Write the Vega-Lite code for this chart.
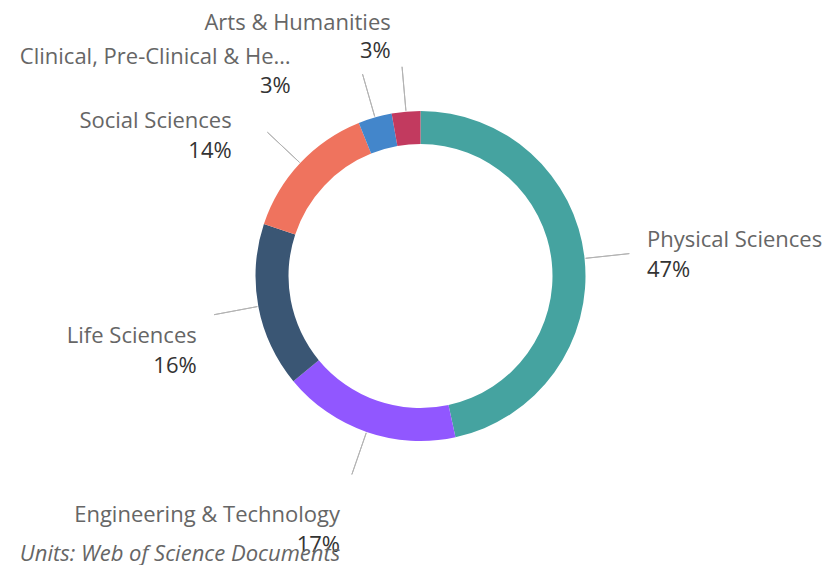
{
  "$schema": "https://vega.github.io/schema/vega-lite/v6.json",
  "width": 795,
  "height": 520,
  "autosize": "none",
  "padding": {"left": 23, "top": 16, "right": 10, "bottom": 29},
  "background": "white",
  "config": {"view": {"stroke": null}},
  "title": {
    "text": "Units: Web of Science Documents",
    "orient": "bottom",
    "anchor": "start",
    "font": "Open Sans",
    "fontSize": 22,
    "fontStyle": "italic",
    "fontWeight": "normal",
    "color": "#666666",
    "baseline": "alphabetic",
    "offset": 5
  },
  "data": {
    "values": [
      {"cat": "Physical Sciences", "share": 0.466, "rank": 1},
      {"cat": "Engineering & Technology", "share": 0.174, "rank": 2},
      {"cat": "Life Sciences", "share": 0.161, "rank": 3},
      {"cat": "Social Sciences", "share": 0.138, "rank": 4},
      {"cat": "Clinical, Pre-Clinical & He…", "share": 0.033, "rank": 5},
      {"cat": "Arts & Humanities", "share": 0.028, "rank": 6}
    ]
  },
  "encoding": {
    "theta": {"field": "share", "type": "quantitative", "stack": true},
    "order": {"field": "rank", "type": "quantitative"},
    "detail": {"field": "cat", "type": "nominal"}
  },
  "layer": [
    {
      "mark": {"type": "arc", "outerRadius": 165, "innerRadius": 132},
      "encoding": {
        "color": {
          "field": "cat",
          "type": "nominal",
          "legend": null,
          "scale": {
            "domain": ["Physical Sciences", "Engineering & Technology", "Life Sciences", "Social Sciences", "Clinical, Pre-Clinical & He…", "Arts & Humanities"],
            "range": ["#45A3A0", "#9157FF", "#3A5674", "#EF735E", "#4386CB", "#C23A5F"]
          }
        }
      }
    },
    {
      "mark": {"type": "arc", "outerRadius": 210, "innerRadius": 166, "padAngle": 3, "fill": null, "fillOpacity": 0, "stroke": "#b3b3b3", "strokeWidth": 1}
    },
    {
      "mark": {
        "type": "text",
        "font": "Open Sans",
        "fontSize": 22,
        "color": "#666666",
        "baseline": "alphabetic",
        "align": {"expr": "datum.cat === 'Physical Sciences' ? 'left' : 'right'"},
        "dx": {"expr": "datum.cat === 'Physical Sciences' ? 27.6 : datum.cat === 'Engineering & Technology' ? -15.1 : datum.cat === 'Life Sciences' ? -27.2 : datum.cat === 'Social Sciences' ? -43.0 : datum.cat === 'Arts & Humanities' ? -12.2 : -74.6"},
        "dy": {"expr": "datum.cat === 'Physical Sciences' ? -7.4 : datum.cat === 'Engineering & Technology' ? 57.3 : datum.cat === 'Life Sciences' ? 30.4 : datum.cat === 'Social Sciences' ? -10.8 : datum.cat === 'Arts & Humanities' ? -46.8 : -19.5"}
      },
      "encoding": {
        "radius": {"value": 200},
        "text": {"field": "cat", "type": "nominal"}
      }
    },
    {
      "mark": {
        "type": "text",
        "font": "Open Sans",
        "fontSize": 22,
        "color": "#333333",
        "baseline": "alphabetic",
        "align": {"expr": "datum.cat === 'Physical Sciences' ? 'left' : 'right'"},
        "dx": {"expr": "datum.cat === 'Physical Sciences' ? 27.6 : datum.cat === 'Engineering & Technology' ? -15.1 : datum.cat === 'Life Sciences' ? -27.2 : datum.cat === 'Social Sciences' ? -43.0 : datum.cat === 'Arts & Humanities' ? -12.2 : -74.6"},
        "dy": {"expr": "datum.cat === 'Physical Sciences' ? 22.6 : datum.cat === 'Engineering & Technology' ? 86.7 : datum.cat === 'Life Sciences' ? 59.8 : datum.cat === 'Social Sciences' ? 19.2 : datum.cat === 'Arts & Humanities' ? -18.5 : 8.9"}
      },
      "encoding": {
        "radius": {"value": 200},
        "text": {"field": "share", "type": "quantitative", "format": ".0%"}
      }
    }
  ]
}
